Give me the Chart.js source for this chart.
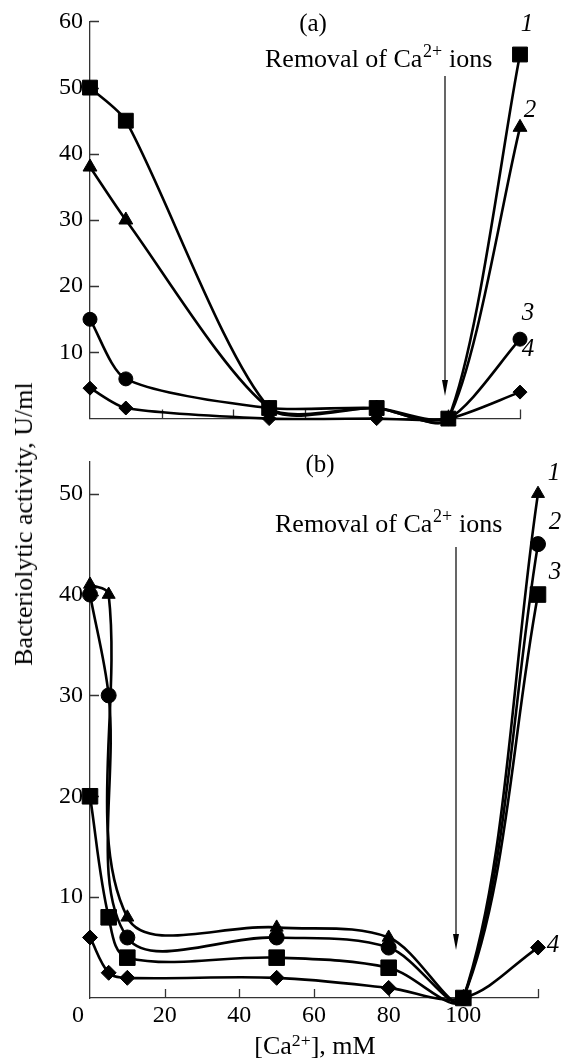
<!DOCTYPE html>
<html><head><meta charset="utf-8">
<script src="https://cdn.jsdelivr.net/npm/chart.js@4/dist/chart.umd.min.js"></script>
<style>
html,body{margin:0;padding:0;background:#fff;}
body{width:561px;height:1064px;position:relative;overflow:hidden;font-family:"Liberation Serif","Times New Roman",serif;color:#000;}
#ca{position:absolute;left:0;top:0;}
#cb{position:absolute;left:0;top:440px;}
#ytitle{position:absolute;left:24px;top:524px;transform:translate(-50%,-50%) rotate(-90deg);white-space:nowrap;font-size:26px;line-height:1;}
#xtitle{position:absolute;left:315px;top:1046px;transform:translate(-50%,-50%);white-space:nowrap;font-size:26px;line-height:1;}
sup{font-size:0.68em;vertical-align:0.45em;line-height:0;}
</style></head>
<body>
<canvas id="ca" width="561" height="440"></canvas>
<canvas id="cb" width="561" height="624"></canvas>
<div id="ytitle">Bacteriolytic activity, U/ml</div>
<div id="xtitle">[Ca<sup>2+</sup>], mM</div>
<script>
// ---- data: panel (a) ----
const xA = [0, 10, 50, 80, 100, 120];
const a1 = [50, 45, 1.6, 1.6, 0, 55];   // curve 1, squares
const a2 = [38, 30, 1.6, 1.6, 0, 44];   // curve 2, triangles
const a3 = [15, 6, 1.6, 1.6, 0, 12];    // curve 3, circles
const a4 = [4.6, 1.6, 0, 0, 0, 4];      // curve 4, diamonds
const yTicksA = [10, 20, 30, 40, 50, 60];
const xTicksA = [20, 40, 60, 80, 100, 120];

// ---- data: panel (b) ----
const xB = [0, 5, 10, 50, 80, 100, 120];
const b1 = [41, 40, 8, 7, 6, 0, 50];    // curve 1, triangles
const b2 = [40, 30, 6, 6, 5, 0, 45];    // curve 2, circles
const b3 = [20, 8, 4, 4, 3, 0, 40];     // curve 3, squares
const b4 = [6, 2.5, 2, 2, 1, 0, 5];     // curve 4, diamonds
const yTicksB = [10, 20, 30, 40, 50];
const xTicksB = [0, 20, 40, 60, 80, 100, 120];
const xLabelsB = ['0\u2002\u2002', '20', '40', '60', '80', '100', ''];

const FONT = '"Liberation Serif", "Times New Roman", serif';
const AXIS = '#333';

function pts(xs, ys){ return xs.map((x,i)=>({x:x, y:ys[i]})); }

function ds(xs, ys, style, r, tension, extra){
  return Object.assign({
    data: pts(xs, ys), borderColor:'#000', borderWidth:2.6, backgroundColor:'#000',
    pointStyle: style, pointRadius: r, pointHoverRadius: r,
    pointBackgroundColor:'#000', pointBorderColor:'#000', pointBorderWidth:1,
    tension:tension, fill:false, clip:false
  }, extra||{});
}

const innerTicks = {
  id:'innerTicks',
  beforeDatasetsDraw(chart, args, o){
    const {ctx, chartArea:ca} = chart;
    const xs = chart.scales.x, ys = chart.scales.y;
    ctx.save(); ctx.strokeStyle = AXIS; ctx.lineWidth = 1.3;
    ctx.beginPath();
    o.x.forEach(v=>{ const p = Math.round(xs.getPixelForValue(v))+0.5; ctx.moveTo(p, ca.bottom); ctx.lineTo(p, ca.bottom - o.len); });
    o.y.forEach(v=>{ const p = Math.round(ys.getPixelForValue(v))+0.5; ctx.moveTo(ca.left, p); ctx.lineTo(ca.left + o.len, p); });
    ctx.stroke(); ctx.restore();
  }
};

function drawRemoval(ctx, x, yb){
  ctx.save(); ctx.fillStyle='#000'; ctx.textBaseline='alphabetic'; ctx.textAlign='left';
  ctx.font = '26px ' + FONT;
  let s1 = 'Removal of Ca'; ctx.fillText(s1, x, yb); let w = ctx.measureText(s1).width;
  ctx.font = '18px ' + FONT; ctx.fillText('2+', x + w + 0.5, yb - 10); let w2 = ctx.measureText('2+').width;
  ctx.font = '26px ' + FONT; ctx.fillText(' ions', x + w + w2 + 1, yb);
  ctx.restore();
}
function drawArrow(ctx, x, y0, y1){
  ctx.save(); ctx.strokeStyle='#000'; ctx.fillStyle='#000'; ctx.lineWidth=1.2;
  ctx.beginPath(); ctx.moveTo(x, y0); ctx.lineTo(x, y1-12); ctx.stroke();
  ctx.beginPath(); ctx.moveTo(x-3, y1-16); ctx.lineTo(x+3, y1-16); ctx.lineTo(x, y1); ctx.closePath(); ctx.fill();
  ctx.restore();
}
function italic(ctx, t, x, y){
  ctx.save(); ctx.fillStyle='#000'; ctx.font='italic 25px ' + FONT; ctx.textAlign='center'; ctx.textBaseline='middle';
  ctx.fillText(t, x, y); ctx.restore();
}

const notes = {
  id:'notes',
  afterDraw(chart, args, o){
    const ctx = chart.ctx;
    ctx.save(); ctx.fillStyle='#000'; ctx.font='25px ' + FONT; ctx.textAlign='center'; ctx.textBaseline='middle';
    ctx.fillText(o.panel, o.px, o.py); ctx.restore();
    drawRemoval(ctx, o.rx, o.ry);
    drawArrow(ctx, o.ax, o.ay0, o.ay1);
    o.nums.forEach(n=>italic(ctx, n[0], n[1], n[2]));
  }
};

function scaleOpts(min, max, ticks, labels, showLabels, size, axis){
  return {
    type:'linear', min:min, max:max,
    grid:{display:false, drawTicks:false},
    border:{display:true, color:AXIS, width:1.3},
    ticks:{display:showLabels, color:'#000', font:{family:FONT, size:24}, padding: axis==='y'?7:3,
      autoSkip:false, maxRotation:0,
      callback:(v)=>{ const i = ticks.indexOf(v); return labels ? (i>=0?labels[i]:'') : String(v); }},
    afterBuildTicks:(s)=>{ s.ticks = ticks.map(v=>({value:v})); },
    afterFit:(s)=>{ if(axis==='y') s.width = size; else s.height = size; }
  };
}

Chart.defaults.animation = false;

new Chart(document.getElementById('ca'), {
  type:'line',
  data:{ datasets:[
    ds(xA, a1, 'rect', 10.5, 0.25),
    ds(xA, a2, 'triangle', 8, 0.25),
    ds(xA, a3, 'circle', 7, 0.25),
    ds(xA, a4, 'rectRot', 7, 0.25)
  ]},
  options:{
    responsive:false, animation:false, events:[],
    layout:{padding:{left:0, top:20, right:41, bottom:0}},
    elements:{line:{capBezierPoints:false}},
    plugins:{legend:{display:false}, tooltip:{enabled:false},
      innerTicks:{x:xTicksA, y:yTicksA, len:9},
      notes:{panel:'(a)', px:313, py:24, rx:265, ry:67, ax:445, ay0:76, ay1:396,
        nums:[['1',527,24],['2',530,110],['3',528,313],['4',528,349]]}
    },
    scales:{
      x: scaleOpts(0, 120, xTicksA, null, false, 19, 'x'),
      y: scaleOpts(0, 60, yTicksA, null, true, 90, 'y')
    }
  },
  plugins:[innerTicks, notes]
});

new Chart(document.getElementById('cb'), {
  type:'line',
  data:{ datasets:[
    ds(xB, b1, 'triangle', 7.5, 0.35),
    ds(xB, b2, 'circle', 7.5, 0.35),
    ds(xB, b3, 'rect', 11, 0.35),
    ds(xB, b4, 'rectRot', 7.5, 0.35)
  ]},
  options:{
    responsive:false, animation:false, events:[],
    layout:{padding:{left:0, top:17, right:23, bottom:0}},
    elements:{line:{capBezierPoints:false}},
    plugins:{legend:{display:false}, tooltip:{enabled:false},
      innerTicks:{x:xTicksB.slice(1), y:yTicksB, len:9},
      notes:{panel:'(b)', px:320, py:25, rx:275, ry:92, ax:456, ay0:107, ay1:510,
        nums:[['1',554,33],['2',555,82],['3',555,132],['4',553,505]]}
    },
    scales:{
      x: scaleOpts(0, 120, xTicksB, xLabelsB, true, 66, 'x'),
      y: scaleOpts(0, 53.2, yTicksB, null, true, 90, 'y')
    }
  },
  plugins:[innerTicks, notes]
});
</script>
</body></html>
